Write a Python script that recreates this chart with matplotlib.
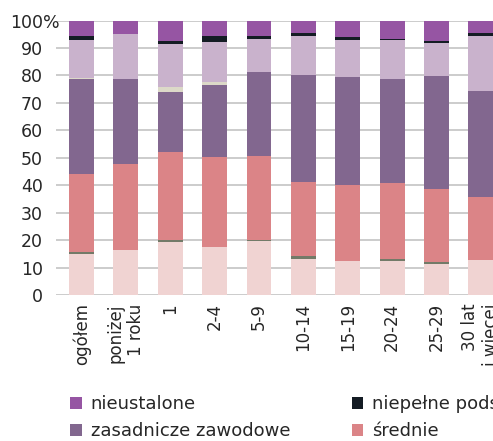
import matplotlib
matplotlib.use('Agg')
from matplotlib import pyplot as plt
from matplotlib.patches import Patch
from matplotlib.transforms import blended_transform_factory
import numpy as np

plt.rcParams['font.family'] = ['DejaVu Sans']

categories = ['ogółem', 'poniżej\n1 roku', '1', '2-4', '5-9', '10-14',
              '15-19', '20-24', '25-29', '30 lat\ni więcej']

# shares in %, bottom segment first
wyzsze = [14.9, 16.4, 19.3, 17.5, 19.7, 13.1, 12.4, 12.4, 11.3, 12.8]
policealne = [0.8, 0.0, 0.7, 0.0, 0.5, 1.1, 0.0, 0.7, 0.7, 0.0]
srednie = [28.4, 31.4, 32.1, 32.8, 30.5, 27.0, 27.7, 27.7, 26.6, 22.9]
zasadnicze = [34.6, 30.9, 21.9, 26.2, 30.6, 39.0, 39.4, 37.9, 41.2, 38.7]
gimnazjalne = [0.5, 0.0, 1.8, 1.1, 0.0, 0.0, 0.0, 0.0, 0.0, 0.0]
podstawowe = [13.8, 16.4, 15.7, 14.6, 12.0, 14.2, 13.5, 14.3, 12.1, 20.0]
niepelne = [1.4, 0.0, 1.1, 2.2, 1.1, 1.1, 1.1, 0.4, 0.7, 1.1]
nieustalone = [5.6, 4.9, 7.4, 5.6, 5.6, 4.5, 5.9, 6.6, 7.4, 4.5]

series = [
    ('wyższe', wyzsze, '#f0d3d2'),
    ('policealne', policealne, '#737a68'),
    ('średnie', srednie, '#db8487'),
    ('zasadnicze zawodowe', zasadnicze, '#82678f'),
    ('gimnazjalne', gimnazjalne, '#dcd9c8'),
    ('podstawowe', podstawowe, '#c9b2cc'),
    ('niepełne podstawowe', niepelne, '#141c24'),
    ('nieustalone', nieustalone, '#9655a3'),
]

W, H = 493, 441
fig = plt.figure(figsize=(W / 100, H / 100), dpi=100)
ax = fig.add_axes([56 / W, 146 / H, 447 / W, 274.5 / H])

x = np.arange(len(categories))
bottom = np.zeros(len(categories))
handles = {}
for name, vals, col in series:
    vals = np.array(vals)
    ax.bar(x, vals, 0.56, bottom=bottom, color=col, zorder=2)
    bottom += vals
    handles[name] = Patch(facecolor=col)

txt = '#262626'
ax.set_xlim(-0.575, 9.5)
ax.set_ylim(0, 100)
ax.set_yticks(np.arange(0, 101, 10))
ax.set_yticklabels([str(v) for v in range(0, 101, 10)])
# the "%" hangs past the label column, as in the source
tr = blended_transform_factory(fig.transFigure, ax.transData)
ax.text(43 / W, 100, '%', transform=tr, fontsize=12.5, color=txt,
        ha='left', va='center_baseline', zorder=5)
ax.set_xticks(x)
ax.set_xticklabels(categories, rotation=90, ha='center', va='top',
                   multialignment='right')
ax.tick_params(length=0, colors=txt)
ax.tick_params(axis='y', pad=9.5, labelsize=12.5)
ax.tick_params(axis='x', pad=6, labelsize=12)
ax.grid(axis='y', color='#c4c4c4', linewidth=1.2, zorder=0)
for s in ax.spines.values():
    s.set_visible(False)

# legend rows as in the source (4 columns, row by row)
row1 = ['nieustalone', 'niepełne podstawowe', 'podstawowe', 'gimnazjalne']
row2 = ['zasadnicze zawodowe', 'średnie', 'policealne', 'wyższe']
order = []
for a, b in zip(row1, row2):
    order += [a, b]
fig.legend([handles[n] for n in order], order, ncol=4, frameon=False,
           loc='upper left', bbox_to_anchor=(61 / W, 1 - 386 / H),
           fontsize=13, handlelength=0.65, handleheight=0.65,
           handletextpad=0.5, columnspacing=3.4, labelspacing=0.5,
           borderpad=0, labelcolor=txt)

plt.savefig('out.png', dpi=100)
